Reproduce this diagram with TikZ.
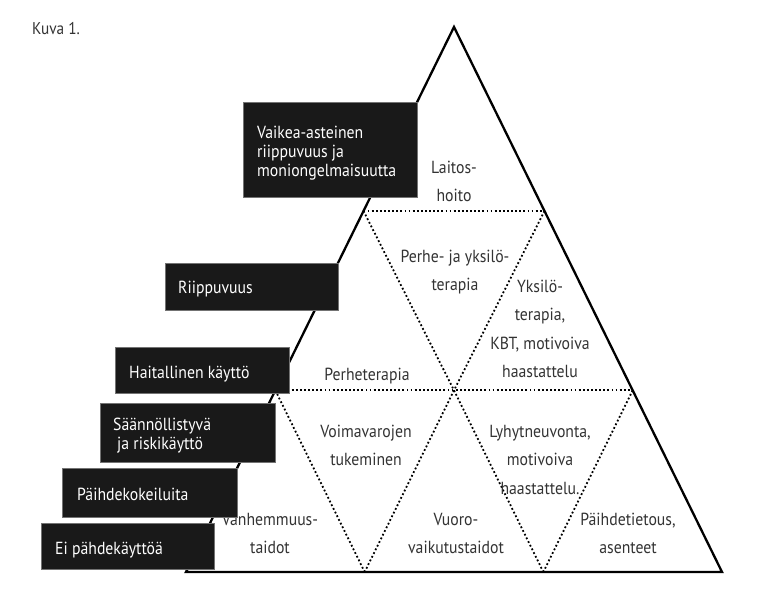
\documentclass[tikz,border=0pt]{standalone}
\usepackage{fontspec}
\setmainfont{PT Sans}[FakeStretch=0.9]
\usetikzlibrary{calc}
\newcommand\ctrlines[1]{\begin{tabular}[t]{@{}c@{}}#1\end{tabular}}
\newcommand\leftlines[1]{\begin{tabular}[t]{@{}l@{}}#1\end{tabular}}
\begin{document}
\begin{tikzpicture}[x=1pt,y=-1pt,
  tri/.style={line width=2.3pt, line join=miter},
  dots/.style={line width=1.8pt, dash pattern=on 1.8pt off 2.3pt},
  blk/.style={fill=black!90, draw=black!55, line width=0.6pt, inner sep=0pt, anchor=north west},
  wtxt/.style={text=white, font=\fontsize{17.5}{19}\selectfont, inner sep=0pt, anchor=base west},
  gtxt/.style={text=black!80, font=\fontsize{17.5}{28.5}\selectfont, inner sep=0pt, anchor=base}]
\useasboundingbox (0,0) rectangle (757,594);
\fill[white] (0,0) rectangle (757,594);
% triangle
\coordinate (A) at (454,27);
\coordinate (B) at (722,572);
\coordinate (C) at (186,572);
\coordinate (L1) at ($(A)!0.3376!(C)$);
\coordinate (R1) at ($(A)!0.3376!(B)$);
\coordinate (L2) at ($(A)!2/3!(C)$);
\coordinate (R2) at ($(A)!2/3!(B)$);
\coordinate (M2) at ($(L2)!0.5!(R2)$);
\coordinate (C1) at ($(C)!1/3!(B)$);
\coordinate (C2) at ($(C)!2/3!(B)$);
\draw[dots] (L1) -- (R1);
\draw[dots] (L2) -- (R2);
\draw[dots] (L1) -- (M2) -- (C2);
\draw[dots] (R1) -- (M2) -- (C1);
\draw[dots] (L2) -- (C1);
\draw[dots] (R2) -- (C2);
\draw[tri] (A) -- (B) -- (C) -- cycle;
% texts inside the triangle
\node[gtxt] (laitos) at (454,173) {\ctrlines{Laitos-\\hoito}};
\node[gtxt] (perheyks) at (455,262) {\ctrlines{Perhe- ja yksilö-\\terapia}};
\node[gtxt] (yksilo) at (540,292) {\ctrlines{Yksilö-\\terapia,\\KBT, motivoiva\\haastattelu}};
\node[gtxt] (perheter) at (367,380) {Perheterapia};
\node[gtxt] (voima) at (366,437) {\ctrlines{Voimavarojen\\tukeminen}};
\node[gtxt] (lyhyt) at (540,437) {\ctrlines{Lyhytneuvonta,\\motivoiva\\haastattelu.}};
\node[gtxt] (vanh) at (270,525) {\ctrlines{Vanhemmuus-\\taidot}};
\node[gtxt] (vuoro) at (456,525) {\ctrlines{Vuoro-\\vaikutustaidot}};
\node[gtxt] (paihde) at (628,525) {\ctrlines{Päihdetietous,\\asenteet}};
% black boxes
\node[blk, minimum width=174pt, minimum height=95pt] (b1) at (243,102) {};
\node[blk, minimum width=173pt, minimum height=47pt] (b2) at (165,263) {};
\node[blk, minimum width=174pt, minimum height=46pt] (b3) at (115,347) {};
\node[blk, minimum width=175pt, minimum height=59pt] (b4) at (100,403) {};
\node[blk, minimum width=175pt, minimum height=49pt] (b5) at (62,468) {};
\node[blk, minimum width=173pt, minimum height=46pt] (b6) at (41,523) {};
\node[wtxt] (t1) at (257,138) {\leftlines{Vaikea-asteinen\\riippuvuus ja\\moniongelmaisuutta}};
\node[wtxt] (t2) at (178,293) {Riippuvuus};
\node[wtxt] (t3) at (129,378) {Haitallinen käyttö};
\node[wtxt] (t4) at (113,430) {\leftlines{Säännöllistyvä\\\hspace{4pt}ja riskikäyttö}};
\node[wtxt] (t5) at (77,500) {Päihdekokeiluita};
\node[wtxt] (t6) at (55,554) {Ei pähdekäyttöä};
% caption
\node[text=black!80, font=\fontsize{17}{18}\selectfont, inner sep=0pt, anchor=base west] (kuva) at (32,35) {Kuva 1.};
\end{tikzpicture}
\end{document}
